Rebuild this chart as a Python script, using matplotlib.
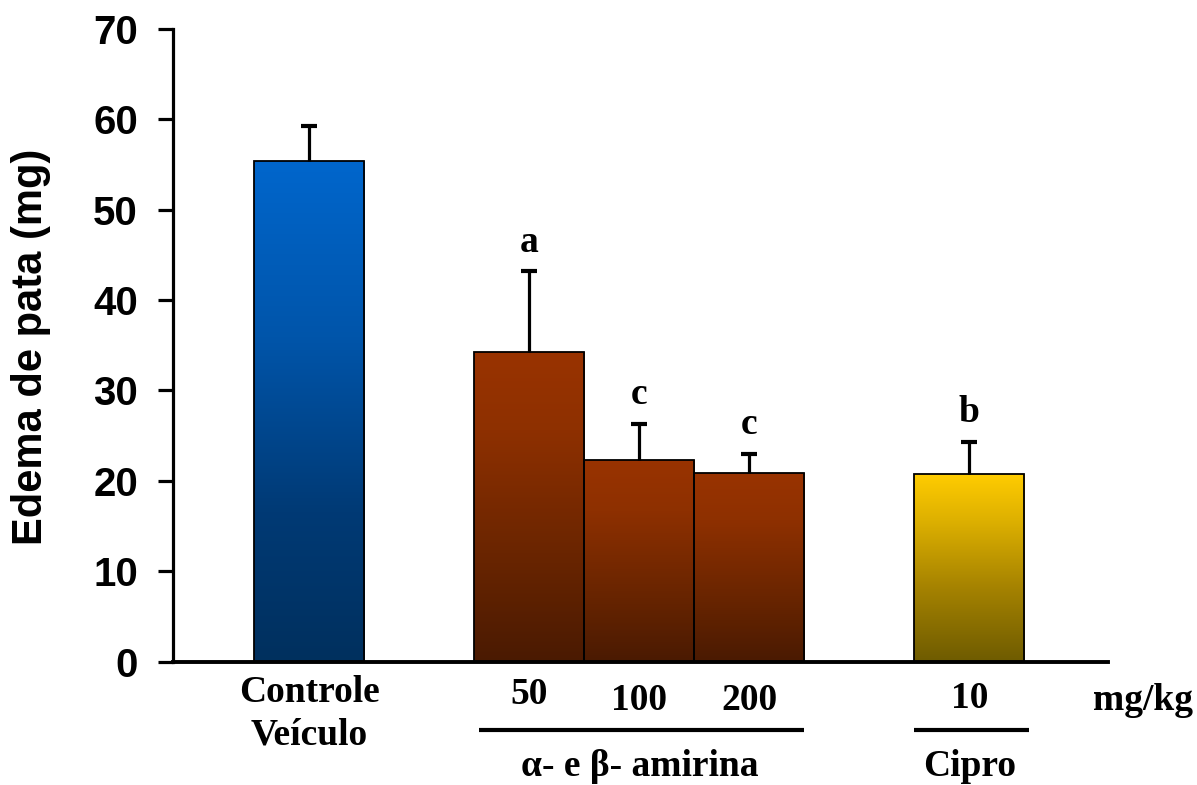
import numpy as np
import matplotlib.pyplot as plt
from matplotlib.colors import LinearSegmentedColormap
from matplotlib.transforms import blended_transform_factory

# data
labels = ['Controle\nVeículo', '50', '100', '200', '10']
edema = [55.4, 34.2, 22.3, 20.9, 20.7]
err_up = [3.8, 9.0, 4.0, 2.1, 3.6]
letters = ['', 'a', 'c', 'c', 'b']
groups = ['α- e β- amirina', 'Cipro']

xpos = [0, 2, 3, 4, 6]

blue = LinearSegmentedColormap.from_list('blue', [(0, '#00305E'), (0.3, '#003A75'), (0.65, '#0055AA'), (1, '#0066CC')])
brown = LinearSegmentedColormap.from_list('brown', [(0, '#4A1A02'), (0.35, '#6A2500'), (0.75, '#8E3000'), (1, '#993300')])
yellow = LinearSegmentedColormap.from_list('yellow', [(0, '#6E5B00'), (0.4, '#A68300'), (0.75, '#DDB000'), (1, '#FFCC00')])
cmaps = [blue, brown, brown, brown, yellow]

fig = plt.figure(figsize=(11.97, 7.85), dpi=100)
ax = fig.add_axes([0.1443, 0.1573, 0.7814, 0.8061])

bars = ax.bar(xpos, edema, width=1.0, color='none', edgecolor='black', linewidth=1.3, zorder=3)
grad = np.linspace(0, 1, 256).reshape(-1, 1)
for b, cm in zip(bars, cmaps):
    x0 = b.get_x()
    im = ax.imshow(grad, extent=[x0, x0 + b.get_width(), 0, b.get_height()], origin='lower',
                   aspect='auto', cmap=cm, zorder=2, interpolation='bilinear')
    im.set_clip_path(b)

# upper error bars only
ax.errorbar(xpos, edema, yerr=[np.zeros(len(edema)), err_up], fmt='none', ecolor='black',
            elinewidth=2.3, capsize=0, zorder=4)
tops = np.array(edema) + np.array(err_up)
ax.plot(xpos, tops, ls='none', marker='_', ms=12, mew=3, color='black', zorder=4)

for x, t, l in zip(xpos, tops, letters):
    if l:
        ax.text(x, t + 3.2, l, ha='center', va='center', fontsize=27, fontweight='bold',
                family='Liberation Serif')

ax.set_xlim(-1.24, 7.26)
ax.set_ylim(0, 70)
ax.set_yticks(range(0, 71, 10))
ax.set_xticks([])
ax.spines['top'].set_visible(False)
ax.spines['right'].set_visible(False)
ax.spines['left'].set_linewidth(2.3)
ax.spines['bottom'].set_linewidth(2.8)
ax.tick_params(axis='y', length=11, width=2.3, pad=14, labelsize=29)
for t in ax.get_yticklabels():
    t.set_fontweight('bold')
    t.set_family('Liberation Sans')

def fy(py):
    return (785 - py) / 785

fig.text(31 / 1197, fy(347), 'Edema de pata (mg)', rotation=90, ha='center', va='center',
         fontsize=30, fontweight='bold', family='Liberation Sans')

tr = blended_transform_factory(ax.transData, fig.transFigure)

label_y = [693, 695, 700, 700, 699]
serif = dict(fontsize=27, fontweight='bold', family='Liberation Serif', ha='center', va='center')
for x, l, py in zip(xpos, labels, label_y):
    if '\n' in l:
        top, bottom = l.split('\n')
        ax.text(x, fy(py), top, transform=tr, **serif)
        ax.text(x, fy(py + 42), bottom, transform=tr, **serif)
    else:
        ax.text(x, fy(py), l, transform=tr, **serif)

fig.text(1193 / 1197, fy(700), 'mg/kg', **{**serif, 'ha': 'right'})

# group brackets
ax.plot([1.54, 4.5], [fy(730)] * 2, transform=tr, color='black', lw=3, clip_on=False,
        solid_capstyle='butt')
ax.plot([5.5, 6.54], [fy(730)] * 2, transform=tr, color='black', lw=3, clip_on=False,
        solid_capstyle='butt')
ax.text(3.0, fy(766), groups[0], transform=tr, **serif)
ax.text(6.0, fy(766), groups[1], transform=tr, **serif)

fig.savefig('out.png', dpi=100)
